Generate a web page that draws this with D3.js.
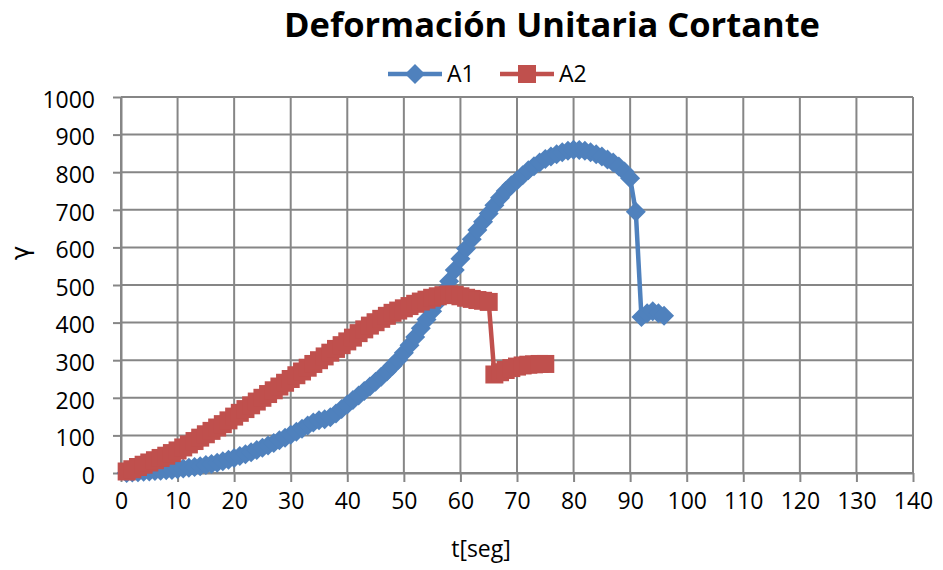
<!DOCTYPE html>
<html lang="es">
<head>
<meta charset="utf-8">
<style>
  body { margin: 0; background: #fff; }
  svg { display: block; font-family: "Open Sans", sans-serif; }
  .grid line { stroke: #868686; stroke-width: 2; }
  .axis path, .axis line { stroke: #868686; stroke-width: 2; }
  .axis text { font-size: 23px; fill: #000; font-family: "Open Sans", sans-serif; }
</style>
<script src="https://d3js.org/d3.v7.min.js"></script>
</head>
<body>
<svg width="943" height="570"></svg>
<script>
// sample times (s) and shear strain for each specimen
var tA1 = [1,2,3,4,5,6,7,8,9,10,11,12,13,14,15,16,17,18,19,20,
  21,22,23,24,25,26,27,28,29,30,31,32,33,34,35,36,37,38,39,40,
  41,42,43,44,45,46,47,48,49,50,51,52,53,54,55,56,57,58,59,60,
  61,62,63,64,65,66,67,68,69,70,71,72,73,74,75,76,77,78,79,80,
  81,82,83,84,85,86,87,88,89,90,91,92,93,94,95,96];
var A1 = [0,1,2,3,4,5,6,7,8,10,12,14,16,18,21,24,27,31,35,40,
  45,50,55,61,67,73,80,87,94,102,110,118,126,134,140,143,148,158,170,182,
  194,206,218,230,243,256,270,285,301,320,340,362,385,408,430,455,482,510,540,570,
  597,622,646,668,690,712,732,750,765,778,792,805,816,826,835,842,848,853,857,860,
  859,857,853,848,842,834,826,815,802,784,695,415,425,430,425,418];

var tA2 = [1,2,3,4,5,6,7,8,9,10,11,12,13,14,15,16,17,18,19,20,
  21,22,23,24,25,26,27,28,29,30,31,32,33,34,35,36,37,38,39,40,
  41,42,43,44,45,46,47,48,49,50,51,52,53,54,55,56,57,58,59,60,
  61,62,63,64,65,66,67,68,69,70,71,72,73,74,75];
var A2 = [4,10,16,22,28,34,40,46,53,60,68,76,85,94,103,112,121,130,140,150,
  160,170,180,190,200,210,220,230,240,250,260,270,280,290,300,310,320,330,340,350,
  360,372,382,392,401,410,418,426,432,438,444,450,456,461,466,470,473,475,474,470,
  466,463,460,458,455,262,268,274,279,283,286,288,289,290,290];

var xTicks = [0,10,20,30,40,50,60,70,80,90,100,110,120,130,140];
var yTicks = [0,100,200,300,400,500,600,700,800,900,1000];

var svg = d3.select("svg");

var x = d3.scaleLinear().domain([0, 140]).range([121, 913]);
var y = d3.scaleLinear().domain([0, 1000]).range([473, 97]);

// gridlines
var grid = svg.append("g").attr("class", "grid");
grid.selectAll(".v").data(xTicks).enter().append("line")
    .attr("x1", function(d) { return x(d); }).attr("x2", function(d) { return x(d); })
    .attr("y1", y(1000)).attr("y2", y(0));
grid.selectAll(".h").data(yTicks).enter().append("line")
    .attr("x1", x(0)).attr("x2", x(140))
    .attr("y1", function(d) { return y(d); }).attr("y2", function(d) { return y(d); });

// axes
var xAxis = svg.append("g").attr("class", "axis")
    .attr("transform", "translate(0," + y(0) + ")")
    .call(d3.axisBottom(x).tickValues(xTicks).tickFormat(d3.format("d"))
      .tickSize(9).tickSizeOuter(0).tickPadding(18));
xAxis.selectAll("text").attr("dy", "0.71em").attr("y", 20);

var yAxis = svg.append("g").attr("class", "axis")
    .attr("transform", "translate(" + x(0) + ",0)")
    .call(d3.axisLeft(y).tickValues(yTicks).tickFormat(d3.format("d"))
      .tickSize(8).tickSizeOuter(0).tickPadding(18));
yAxis.selectAll("text").attr("dy", "0.45em").attr("x", -26);

// series
var series = [
  { name: "A1", t: tA1, v: A1, color: "#4F81BD", marker: "diamond" },
  { name: "A2", t: tA2, v: A2, color: "#C0504D", marker: "square" }
];

var line = d3.line()
    .x(function(d) { return x(d[0]); })
    .y(function(d) { return y(d[1]); });

function markerPath(type) {
  if (type === "diamond") return "M0,-10L10,0L0,10L-10,0Z";
  return "M-9,-9H9V9H-9Z";
}

series.forEach(function(s) {
  var pts = s.t.map(function(t, i) { return [t, s.v[i]]; });
  svg.append("path")
      .datum(pts)
      .attr("fill", "none")
      .attr("stroke", s.color)
      .attr("stroke-width", 4.5)
      .attr("stroke-linejoin", "round")
      .attr("d", line);
  svg.append("g").selectAll("path").data(pts).enter().append("path")
      .attr("transform", function(d) { return "translate(" + x(d[0]) + "," + y(d[1]) + ")"; })
      .attr("d", markerPath(s.marker))
      .attr("fill", s.color);
});

// title
svg.append("text")
    .attr("x", 552).attr("y", 37)
    .attr("text-anchor", "middle")
    .attr("font-size", 34).attr("font-weight", "bold")
    .attr("textLength", 536).attr("lengthAdjust", "spacingAndGlyphs")
    .text("Deformación Unitaria Cortante");

// legend
var legend = svg.append("g");
var legX = [388, 500];
series.forEach(function(s, i) {
  var g = legend.append("g").attr("transform", "translate(" + legX[i] + ",74)");
  g.append("line").attr("x1", 0).attr("x2", 54).attr("stroke", s.color).attr("stroke-width", 4.5);
  g.append("path").attr("transform", "translate(27,0)").attr("d", markerPath(s.marker)).attr("fill", s.color);
  g.append("text").attr("x", 59).attr("y", 8).attr("font-size", 23).text(s.name);
});

// axis titles
svg.append("text")
    .attr("x", 481).attr("y", 557)
    .attr("text-anchor", "middle")
    .attr("font-size", 23)
    .text("t[seg]");

svg.append("text")
    .attr("transform", "translate(29,253) rotate(-90)")
    .attr("text-anchor", "middle")
    .attr("font-size", 24)
    .attr("font-family", "DejaVu Sans")
    .text("γ");
</script>
</body>
</html>
